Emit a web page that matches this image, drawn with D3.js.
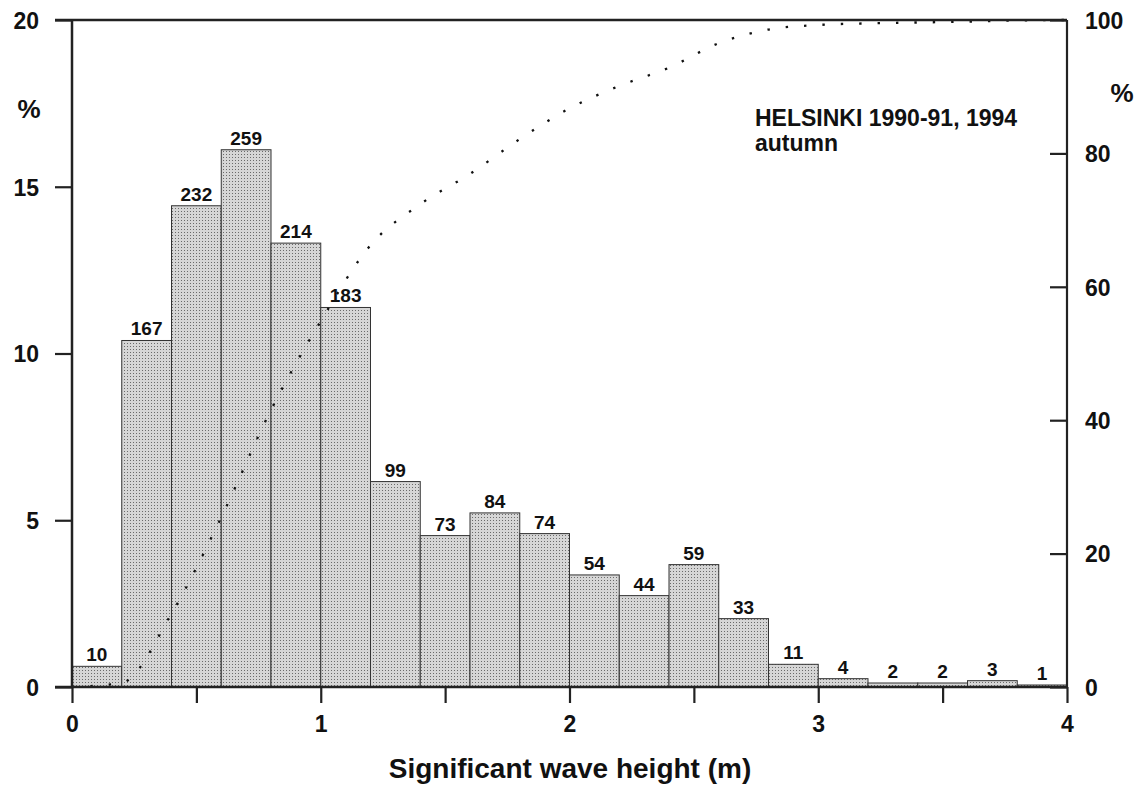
<!DOCTYPE html>
<html>
<head>
<meta charset="utf-8">
<script src="https://cdn.jsdelivr.net/npm/d3@7"></script>
<style>
  html, body { margin: 0; padding: 0; background: #fff; }
  svg text { font-family: "Liberation Sans", Arial, Helvetica, sans-serif; font-weight: bold; fill: #111; }
</style>
</head>
<body>
<svg id="chart" width="1142" height="785"></svg>
<script>
// ---- data ----
const binStarts = [0, 0.2, 0.4, 0.6, 0.8, 1.0, 1.2, 1.4, 1.6, 1.8, 2.0, 2.2, 2.4, 2.6, 2.8, 3.0, 3.2, 3.4, 3.6, 3.8];
const binWidth = 0.2;
const counts = [10, 167, 232, 259, 214, 183, 99, 73, 84, 74, 54, 44, 59, 33, 11, 4, 2, 2, 3, 1];
const percents = [0.62, 10.39, 14.43, 16.11, 13.31, 11.38, 6.16, 4.54, 5.22, 4.60, 3.36, 2.74, 3.67, 2.05, 0.68, 0.25, 0.12, 0.12, 0.19, 0.06];
const cumX = [0, 0.2, 0.4, 0.6, 0.8, 1.0, 1.2, 1.4, 1.6, 1.8, 2.0, 2.2, 2.4, 2.6, 2.8, 3.0, 3.2, 3.4, 3.6, 3.8, 4.0];
const cumPct = [0, 0.62, 11.01, 25.44, 41.54, 54.85, 66.23, 72.39, 76.93, 82.15, 86.75, 90.11, 92.85, 96.52, 98.57, 99.25, 99.50, 99.63, 99.75, 99.94, 100];
const xTicks = [0, 1, 2, 3, 4];
const xMinorTicks = [0.5, 1.5, 2.5, 3.5];
const yLeftTicks = [0, 5, 10, 15, 20];
const yRightTicks = [0, 20, 40, 60, 80, 100];
const titleLines = ["HELSINKI 1990-91, 1994", "autumn"];
const xTitle = "Significant wave height (m)";

// ---- layout ----
const L = 72, R = 1067, T = 20, B = 687;
const svg = d3.select("#chart");

const x = d3.scaleLinear().domain([0, 4]).range([L, R]);
const yL = d3.scaleLinear().domain([0, 20]).range([B, T]);
const yR = d3.scaleLinear().domain([0, 100]).range([B, T]);

// stipple pattern
const defs = svg.append("defs");
const pat = defs.append("pattern").attr("id", "stip").attr("patternUnits", "userSpaceOnUse")
  .attr("width", 3).attr("height", 3);
pat.append("rect").attr("width", 3).attr("height", 3).attr("fill", "#d6d6d6");
pat.append("rect").attr("x", 1).attr("y", 1).attr("width", 1).attr("height", 1).attr("fill", "#6a6a6a");

// bars
const bars = binStarts.map((s, i) => ({ s, c: counts[i], p: percents[i] }));
svg.append("g").selectAll("rect").data(bars).join("rect")
  .attr("x", d => x(d.s))
  .attr("y", d => yL(d.p))
  .attr("width", d => x(d.s + binWidth) - x(d.s))
  .attr("height", d => yL(0) - yL(d.p))
  .attr("fill", "url(#stip)")
  .attr("stroke", "#333")
  .attr("stroke-width", 1);

// bar labels
svg.append("g").selectAll("text").data(bars).join("text")
  .attr("x", d => x(d.s + binWidth / 2))
  .attr("y", d => yL(d.p) - 5)
  .attr("text-anchor", "middle")
  .attr("font-size", 19)
  .text(d => d.c);

// cumulative dotted curve
const line = d3.line().x((d, i) => x(cumX[i])).y(d => yR(d)).curve(d3.curveMonotoneX);
svg.append("path").datum(cumPct)
  .attr("d", line)
  .attr("fill", "none")
  .attr("stroke", "#111")
  .attr("stroke-width", 2.3)
  .attr("stroke-dasharray", "2.4 16");

// frame / axes
const axG = svg.append("g");
axG.append("line").attr("x1", L - 17).attr("x2", R).attr("y1", T).attr("y2", T).attr("stroke", "#222").attr("stroke-width", 2.5);
axG.append("line").attr("x1", L).attr("x2", L).attr("y1", T).attr("y2", B).attr("stroke", "#222").attr("stroke-width", 2.5);
axG.append("line").attr("x1", R).attr("x2", R).attr("y1", T).attr("y2", B).attr("stroke", "#222").attr("stroke-width", 2.2);
axG.append("line").attr("x1", L - 17).attr("x2", R).attr("y1", B).attr("y2", B).attr("stroke", "#222").attr("stroke-width", 2.5);

const tickFont = sel => sel.attr("font-size", 23).attr("fill", "#111")
  .style("font-family", '"Liberation Sans", Arial, sans-serif').style("font-weight", "bold");

// bottom axis
const xAxis = d3.axisBottom(x).tickValues(xTicks.concat(xMinorTicks)).tickSize(16).tickFormat(d => xTicks.includes(d) ? d3.format("d")(d) : "");
const gx = svg.append("g").attr("transform", `translate(0,${B})`).call(xAxis);
gx.select(".domain").remove();
gx.selectAll(".tick line").attr("stroke", "#222").attr("stroke-width", 2.2);
gx.selectAll(".tick text").call(tickFont).attr("dy", 0).attr("y", 45);

// left axis
const yAxisL = d3.axisLeft(yL).tickValues(yLeftTicks).tickSize(17).tickFormat(d3.format("d"));
const gl = svg.append("g").attr("transform", `translate(${L},0)`).call(yAxisL);
gl.select(".domain").remove();
gl.selectAll(".tick line").attr("stroke", "#222").attr("stroke-width", 2.2);
gl.selectAll(".tick text").call(tickFont).attr("x", -33).attr("dy", "0.36em");

// right axis (ticks inward)
const yAxisR = d3.axisRight(yR).tickValues(yRightTicks).tickSize(0).tickFormat(d3.format("d"));
const gr = svg.append("g").attr("transform", `translate(${R},0)`).call(yAxisR);
gr.select(".domain").remove();
gr.selectAll(".tick line").attr("x1", -17).attr("x2", 0).attr("stroke", "#222").attr("stroke-width", 2.2);
gr.selectAll(".tick text").call(tickFont).attr("x", 18).attr("dy", "0.36em");

// % unit labels
svg.append("text").attr("x", 29).attr("y", 118).attr("text-anchor", "middle").attr("font-size", 26).text("%");
svg.append("text").attr("x", 1122).attr("y", 102).attr("text-anchor", "middle").attr("font-size", 26).text("%");

// annotation
svg.append("text").attr("x", 755).attr("y", 126).attr("font-size", 23).text(titleLines[0]);
svg.append("text").attr("x", 755).attr("y", 151).attr("font-size", 23).text(titleLines[1]);

// x-axis title
svg.append("text").attr("x", 570).attr("y", 778).attr("text-anchor", "middle").attr("font-size", 28).text(xTitle);
</script>
</body>
</html>
